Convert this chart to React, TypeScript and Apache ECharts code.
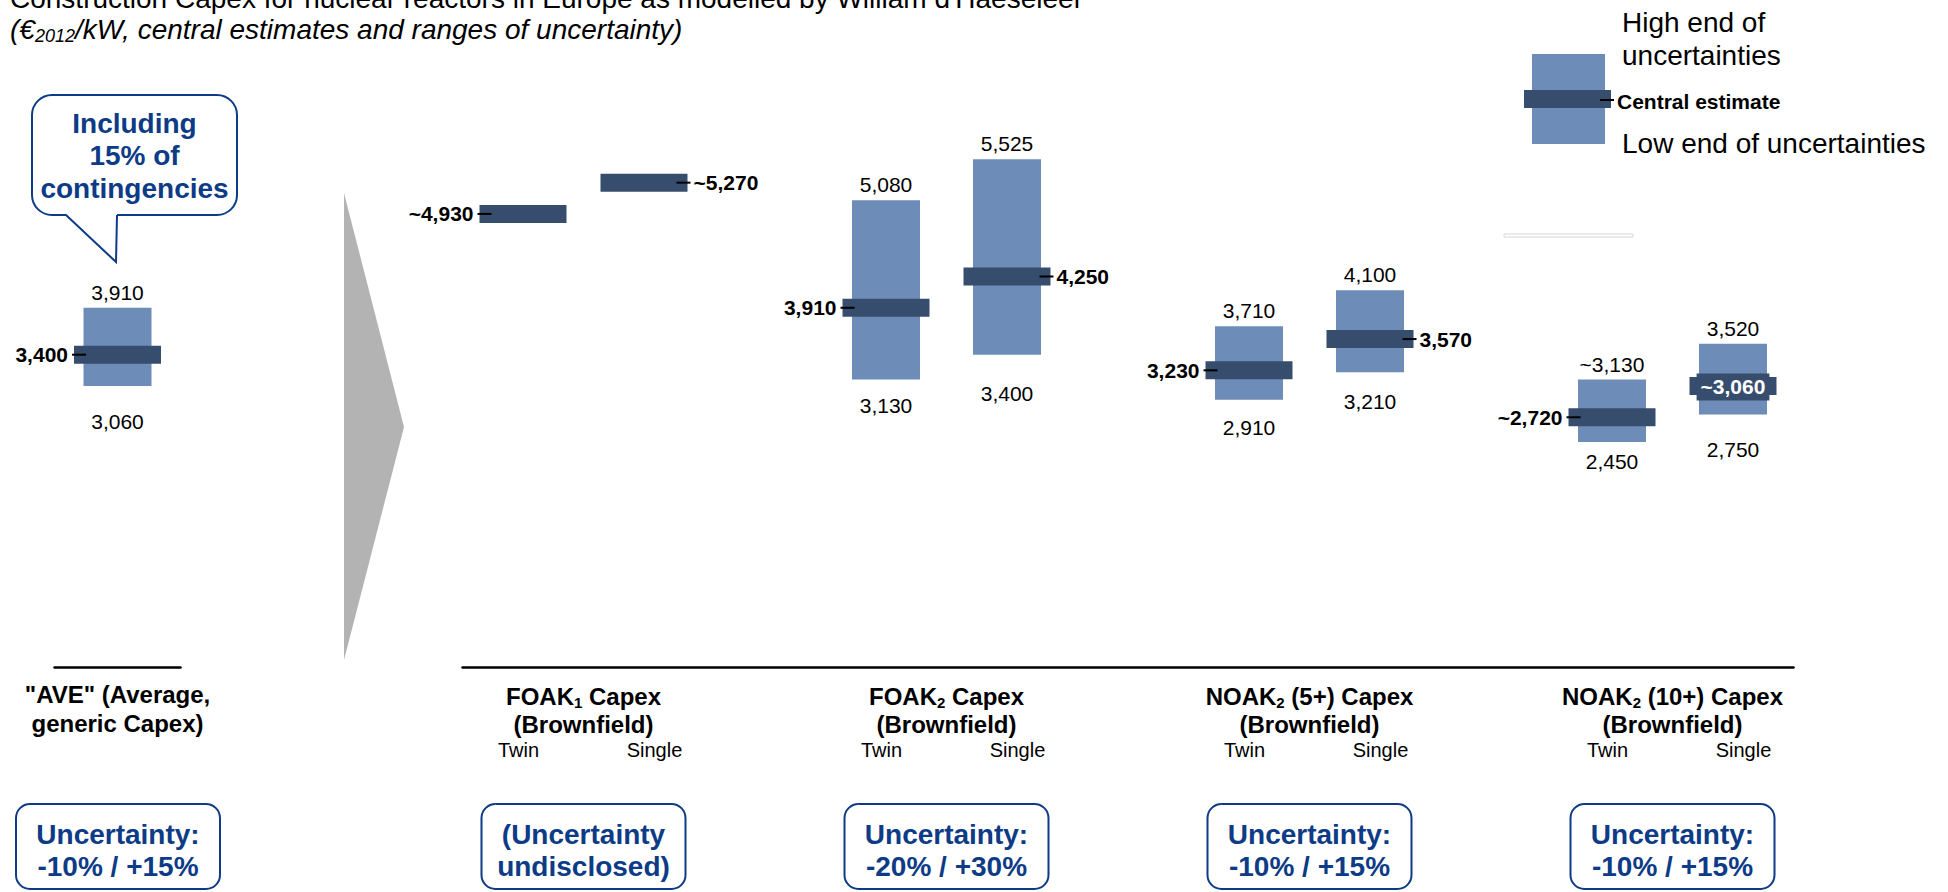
import React, { useEffect, useRef } from 'react';
import * as echarts from 'echarts';

// ---------------- data ----------------
const aveCategories = ['AVE'];
const aveLow = [3060];
const aveHigh = [3910];
const aveCentral = [3400];
const aveLowLabels = ['3,060'];
const aveHighLabels = ['3,910'];
const aveCentralLabels = ['3,400'];
const aveCentralSide = ['left'];

const categories = [
  'FOAK1 Twin', 'FOAK1 Single', 'gap1',
  'FOAK2 Twin', 'FOAK2 Single', 'gap2',
  'NOAK5 Twin', 'NOAK5 Single', 'gap3',
  'NOAK10 Twin', 'NOAK10 Single',
];
const lowValues = [null, null, null, 3130, 3400, null, 2910, 3210, null, 2450, 2750];
const highValues = [null, null, null, 5080, 5525, null, 3710, 4100, null, 3130, 3520];
const centralValues = [4930, 5270, null, 3910, 4250, null, 3230, 3570, null, 2720, 3060];
const highLabels = ['', '', '', '5,080', '5,525', '', '3,710', '4,100', '', '~3,130', '3,520'];
const lowLabels = ['', '', '', '3,130', '3,400', '', '2,910', '3,210', '', '2,450', '2,750'];
const centralLabels = ['~4,930', '~5,270', '', '3,910', '4,250', '', '3,230', '3,570', '', '~2,720', '~3,060'];
const centralSide = ['left', 'right', '', 'left', 'right', '', 'left', 'right', '', 'left', 'inside'];

const groupMembers = [[0, 1], [3, 4], [6, 7], [9, 10]];
const groupNames = ['FOAK', 'FOAK', 'NOAK', 'NOAK'];
const groupSubs = ['1', '2', '2', '2'];
const groupSuffixes = [' Capex', ' Capex', ' (5+) Capex', ' (10+) Capex'];
const groupSecondLine = '(Brownfield)';
const variantLabels = ['Twin', 'Single'];
const aveLabelLines = ['"AVE" (Average,', 'generic Capex)'];
const uncertaintyLines = [
  ['Uncertainty:', '-10% / +15%'],
  ['(Uncertainty', 'undisclosed)'],
  ['Uncertainty:', '-20% / +30%'],
  ['Uncertainty:', '-10% / +15%'],
  ['Uncertainty:', '-10% / +15%'],
];
const calloutLines = ['Including', '15% of', 'contingencies'];
const titleText = "Construction Capex for nuclear reactors in Europe as modelled by William d'Haeseleer";
const legendHigh = ['High end of', 'uncertainties'];
const legendCentral = 'Central estimate';
const legendLow = 'Low end of uncertainties';

// ---------------- style / layout ----------------
const FONT = "'Liberation Sans', Arial, Helvetica, sans-serif";
const BLUE = '#0d3b86';
const BOX = '#6d8cb8';
const DARK = '#374d6e';
const GRID_TOP = 115.5;
const GRID_BOTTOM = 224.5;
const Y_MAX = 6000;
const MAIN_LEFT = 462.5;
const SLOT = 121;
const AVE_LEFT = 54.5;
const AVE_WIDTH = 126;
const BOX_W = 68;
const CBAR_W = 87;
const CBAR_H = 18;
const aveLowDrop = [25];
const lowLabelDrop = [0, 0, 0, 15, 28, 0, 17, 19, 0, 9, 24];
const ROW1 = 696;
const ROW2 = 724;
const ROW3 = 750;

const catCenter = (i: number) => MAIN_LEFT + SLOT * (i + 0.5);
const aveCenter = AVE_LEFT + AVE_WIDTH / 2;

function centralRenderer(labels: string[], sides: string[]) {
  return (params: any, api: any) => {
    const i = api.value(0);
    const pt = api.coord([i, api.value(1)]);
    const cx = pt[0];
    const cy = pt[1];
    const side = sides[i];
    const l = cx - CBAR_W / 2;
    const r = cx + CBAR_W / 2;
    const children: any[] = [
      { type: 'rect', shape: { x: l, y: cy - CBAR_H / 2, width: CBAR_W, height: CBAR_H }, style: { fill: DARK } },
    ];
    if (side === 'left') {
      children.push({ type: 'line', shape: { x1: l - 2, y1: cy, x2: l + 12, y2: cy }, style: { stroke: '#000', lineWidth: 2 } });
      children.push({
        type: 'text', x: l - 6, y: cy,
        style: { text: labels[i], fill: '#000', fontSize: 21, fontWeight: 'bold', fontFamily: FONT, align: 'right', verticalAlign: 'middle' },
      });
    } else if (side === 'right') {
      children.push({ type: 'line', shape: { x1: r - 11, y1: cy, x2: r + 3, y2: cy }, style: { stroke: '#000', lineWidth: 2 } });
      children.push({
        type: 'text', x: r + 6, y: cy,
        style: { text: labels[i], fill: '#000', fontSize: 21, fontWeight: 'bold', fontFamily: FONT, align: 'left', verticalAlign: 'middle' },
      });
    } else {
      children.push({
        type: 'text', x: cx, y: cy + 1,
        style: {
          text: labels[i], fill: '#fff', fontSize: 21, fontWeight: 'bold', fontFamily: FONT,
          align: 'center', verticalAlign: 'middle', backgroundColor: DARK, padding: [3, 4],
        },
      });
    }
    return { type: 'group', children };
  };
}

function rangeSeries(
  xAxisIndex: number, stack: string,
  low: (number | null)[], high: (number | null)[],
  lowL: string[], highL: string[], drops: number[],
) {
  return [
    {
      type: 'bar', xAxisIndex, yAxisIndex: xAxisIndex, stack, barWidth: BOX_W, silent: true,
      itemStyle: { color: 'rgba(0,0,0,0)' },
      data: low.map((v, i) => ({
        value: v,
        label: {
          show: v != null, position: 'insideTop', distance: drops[i],
          formatter: () => lowL[i], color: '#000', fontSize: 21, fontFamily: FONT,
        },
      })),
    },
    {
      type: 'bar', xAxisIndex, yAxisIndex: xAxisIndex, stack, barWidth: BOX_W, silent: true,
      itemStyle: { color: BOX },
      data: high.map((v, i) => ({
        value: v == null || low[i] == null ? null : v - (low[i] as number),
        label: {
          show: v != null, position: 'top', distance: 5,
          formatter: () => highL[i], color: '#000', fontSize: 21, fontFamily: FONT,
        },
      })),
    },
  ];
}

function buildGraphics() {
  const g: any[] = [];
  const txt = (x: number, y: number, text: string, extra: any = {}) => ({
    type: 'text', x, y,
    style: { text, fill: '#000', fontFamily: FONT, fontSize: 21, align: 'center', verticalAlign: 'middle', ...extra },
  });

  // titles
  g.push(txt(10, -2, titleText, { fontSize: 28, align: 'left' }));
  g.push({
    type: 'text', x: 10, y: 29,
    style: {
      text: '{i|(€}{s|2012}{i|/kW, central estimates and ranges of uncertainty)}',
      align: 'left', verticalAlign: 'middle',
      rich: {
        i: { fontSize: 28, fontStyle: 'italic', fontFamily: FONT, fill: '#000', lineHeight: 30 },
        s: { fontSize: 18, fontStyle: 'italic', fontFamily: FONT, fill: '#000', lineHeight: 32, verticalAlign: 'bottom' },
      },
    },
  });

  // callout bubble
  g.push({ type: 'rect', shape: { x: 32, y: 95, width: 205, height: 120, r: 20 }, style: { fill: '#fff', stroke: BLUE, lineWidth: 2 } });
  g.push({ type: 'rect', shape: { x: 67.5, y: 212, width: 48, height: 6 }, style: { fill: '#fff' } });
  g.push({ type: 'polygon', shape: { points: [[66, 214], [116, 262], [117, 214]] }, style: { fill: '#fff' } });
  g.push({ type: 'polyline', shape: { points: [[66, 215], [116, 262], [117, 215]] }, style: { stroke: BLUE, lineWidth: 2, fill: null } });
  calloutLines.forEach((t, k) => g.push(txt(134.5, 123 + k * 32.5, t, { fill: BLUE, fontWeight: 'bold', fontSize: 28 })));

  // grey arrow
  g.push({ type: 'polygon', shape: { points: [[344, 193], [404, 427], [344, 660]] }, style: { fill: '#b3b3b3' } });

  // legend
  g.push({ type: 'rect', shape: { x: 1532, y: 54, width: 73, height: 90 }, style: { fill: BOX } });
  g.push({ type: 'rect', shape: { x: 1524, y: 90, width: 87, height: 18 }, style: { fill: DARK } });
  g.push({ type: 'line', shape: { x1: 1600, y1: 100, x2: 1614, y2: 100 }, style: { stroke: '#000', lineWidth: 2 } });
  g.push(txt(1617, 101, legendCentral, { align: 'left', fontWeight: 'bold', fontSize: 21 }));
  legendHigh.forEach((t, k) => g.push(txt(1622, 22 + k * 33, t, { align: 'left', fontSize: 28 })));
  g.push(txt(1622, 143, legendLow, { align: 'left', fontSize: 28 }));
  g.push({ type: 'rect', shape: { x: 1504, y: 234, width: 129, height: 3 }, style: { fill: '#fff', stroke: '#d6d6d6', lineWidth: 1 } });

  // bottom labels
  g.push(txt(aveCenter, ROW1 - 2, aveLabelLines[0], { fontWeight: 'bold', fontSize: 24 }));
  g.push(txt(aveCenter, ROW2 - 1, aveLabelLines[1], { fontWeight: 'bold', fontSize: 24 }));
  const centers: number[] = [aveCenter + 0.5];
  groupMembers.forEach(([a, b], k) => {
    const c = (catCenter(a) + catCenter(b)) / 2;
    centers.push(c);
    g.push({
      type: 'text', x: c, y: ROW1,
      style: {
        text: `{b|${groupNames[k]}}{s|${groupSubs[k]}}{b|${groupSuffixes[k]}}`,
        align: 'center', verticalAlign: 'middle',
        rich: {
          b: { fontSize: 24, fontWeight: 'bold', fontFamily: FONT, fill: '#000', lineHeight: 27 },
          s: { fontSize: 15, fontWeight: 'bold', fontFamily: FONT, fill: '#000', lineHeight: 28, verticalAlign: 'bottom' },
        },
      },
    });
    g.push(txt(c, ROW2, groupSecondLine, { fontWeight: 'bold', fontSize: 24 }));
    g.push(txt(c - 65, ROW3, variantLabels[0], { fontSize: 20 }));
    g.push(txt(c + 71, ROW3, variantLabels[1], { fontSize: 20 }));
  });

  // uncertainty boxes
  uncertaintyLines.forEach((lines, k) => {
    const c = centers[k];
    g.push({ type: 'rect', shape: { x: c - 102, y: 804, width: 204, height: 85, r: 14 }, style: { fill: '#fff', stroke: BLUE, lineWidth: 2 } });
    g.push(txt(c, 834, lines[0], { fill: BLUE, fontWeight: 'bold', fontSize: 28 }));
    g.push(txt(c, 866, lines[1], { fill: BLUE, fontWeight: 'bold', fontSize: 28 }));
  });
  return g;
}

function buildOption(): any {
  const xAxisBase = {
    type: 'category',
    axisTick: { show: false },
    axisLabel: { show: false },
    axisLine: { show: true, lineStyle: { color: '#000', width: 2.5 } },
    splitLine: { show: false },
  };
  const yAxisBase = { type: 'value', min: 0, max: Y_MAX, show: false, splitLine: { show: false } };
  return {
    animation: false,
    backgroundColor: '#fff',
    textStyle: { fontFamily: FONT },
    grid: [
      { left: AVE_LEFT, width: AVE_WIDTH, top: GRID_TOP, bottom: GRID_BOTTOM },
      { left: MAIN_LEFT, width: SLOT * categories.length, top: GRID_TOP, bottom: GRID_BOTTOM },
    ],
    xAxis: [
      { ...xAxisBase, gridIndex: 0, data: aveCategories },
      { ...xAxisBase, gridIndex: 1, data: categories },
    ],
    yAxis: [
      { ...yAxisBase, gridIndex: 0 },
      { ...yAxisBase, gridIndex: 1 },
    ],
    series: [
      ...rangeSeries(0, 'ave', aveLow, aveHigh, aveLowLabels, aveHighLabels, aveLowDrop),
      ...rangeSeries(1, 'main', lowValues, highValues, lowLabels, highLabels, lowLabelDrop),
      {
        type: 'custom', xAxisIndex: 0, yAxisIndex: 0, silent: true,
        encode: { x: 0, y: 1 },
        data: aveCentral.map((v, i) => [i, v]),
        renderItem: centralRenderer(aveCentralLabels, aveCentralSide),
        z: 5,
      },
      {
        type: 'custom', xAxisIndex: 1, yAxisIndex: 1, silent: true,
        encode: { x: 0, y: 1 },
        data: centralValues.map((v, i) => (v == null ? null : [i, v])).filter((d) => d != null),
        renderItem: centralRenderer(centralLabels, centralSide),
        z: 5,
      },
    ],
    graphic: buildGraphics(),
  };
}

export default function App() {
  const ref = useRef<HTMLDivElement>(null);
  useEffect(() => {
    document.body.style.margin = '0';
    const chart = echarts.init(ref.current as HTMLDivElement, null, { renderer: 'svg' });
    chart.setOption(buildOption());
    return () => chart.dispose();
  }, []);
  return <div ref={ref} style={{ width: 1948, height: 892 }} />;
}
